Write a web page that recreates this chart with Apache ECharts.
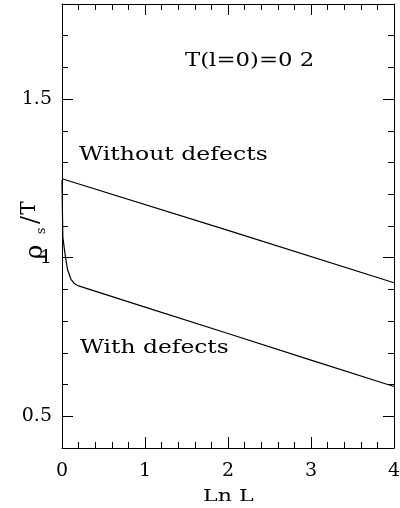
<!DOCTYPE html>
<html>
<head>
<meta charset="utf-8">
<script src="https://cdn.jsdelivr.net/npm/echarts@6/dist/echarts.min.js"></script>
<style>
  html, body { margin: 0; padding: 0; background: #ffffff; }
  #chart { width: 400px; height: 508px; }
</style>
</head>
<body>
<div id="chart"></div>
<script>
// Superfluid stiffness rho_s/T versus Ln L at T(l=0)=0.2
const withoutDefectsLnL = [0, 2, 4];
const withoutDefectsRho = [1.249, 1.086, 0.921];

const withDefectsLnL = [0, 0.005, 0.01, 0.03, 0.048, 0.068, 0.088, 0.108, 0.148, 0.2, 1, 2, 3, 4];
const withDefectsRho = [1.245, 1.15, 1.066, 1.024, 0.992, 0.961, 0.947, 0.932, 0.919, 0.911, 0.844, 0.761, 0.677, 0.594];

const xTickLabels = [0, 1, 2, 3, 4];
const yTickLabels = [0.5, 1, 1.5];

const FONT = 'DejaVu Serif';
const INK = '#000000';

const pairs = (xs, ys) => xs.map((x, i) => [x, ys[i]]);

const chart = echarts.init(document.getElementById('chart'), null, { renderer: 'canvas' });

const lineStyle = { color: INK, width: 1 };

function xAxisDef(position, showLabels) {
  return {
    type: 'value',
    position: position,
    min: xTickLabels[0],
    max: xTickLabels[xTickLabels.length - 1],
    interval: 1,
    axisLine: { show: true, onZero: false, lineStyle: lineStyle },
    axisTick: { show: true, inside: true, length: 11, lineStyle: lineStyle },
    minorTick: { show: true, splitNumber: 5, length: 6, lineStyle: lineStyle },
    splitLine: { show: false },
    minorSplitLine: { show: false },
    axisLabel: {
      show: showLabels, color: INK, fontFamily: FONT, fontSize: 19, margin: 14
    }
  };
}

function yMinorAxis(position, showLabels) {
  return {
    type: 'value',
    position: position,
    min: 0.4,
    max: 1.8,
    interval: 0.1,
    axisLine: { show: true, onZero: false, lineStyle: lineStyle },
    axisTick: { show: true, inside: true, length: 6, lineStyle: lineStyle },
    splitLine: { show: false },
    axisLabel: {
      show: showLabels,
      customValues: yTickLabels,
      color: INK, fontFamily: FONT, fontSize: 19, margin: 10,
      formatter: v => String(v)
    }
  };
}

function yMajorAxis(position) {
  return {
    type: 'value',
    position: position,
    min: 0.4,
    max: 1.8,
    interval: 0.1,
    axisLine: { show: false, onZero: false },
    axisTick: { show: true, inside: true, length: 11, customValues: yTickLabels, lineStyle: lineStyle },
    splitLine: { show: false },
    axisLabel: { show: false }
  };
}

function label(text, x, y, size, sx) {
  return {
    type: 'text', x: x, y: y, scaleX: sx || 1,
    style: {
      text: text, x: 0, y: 0, fill: INK,
      fontFamily: FONT, fontSize: size,
      align: 'left', verticalAlign: 'middle',
      textAlign: 'left', textVerticalAlign: 'middle'
    }
  };
}

function part(text, lx, ly, size) {
  return {
    type: 'text', x: lx, y: ly,
    style: {
      text: text, x: 0, y: 0, fill: INK,
      fontFamily: FONT, fontSize: size,
      align: 'center', verticalAlign: 'middle',
      textAlign: 'center', textVerticalAlign: 'middle'
    }
  };
}

const option = {
  backgroundColor: '#ffffff',
  animation: false,
  grid: { left: 62, right: 6, top: 4, bottom: 60, containLabel: false, outerBoundsMode: 'none' },
  xAxis: [xAxisDef('bottom', true), xAxisDef('top', false)],
  yAxis: [
    yMinorAxis('left', true),
    yMajorAxis('left'),
    yMinorAxis('right', false),
    yMajorAxis('right')
  ],
  series: [
    {
      name: 'Without defects',
      type: 'line',
      xAxisIndex: 0, yAxisIndex: 0,
      data: pairs(withoutDefectsLnL, withoutDefectsRho),
      showSymbol: false, smooth: false,
      lineStyle: { color: INK, width: 1.2 }
    },
    {
      name: 'With defects',
      type: 'line',
      xAxisIndex: 0, yAxisIndex: 0,
      data: pairs(withDefectsLnL, withDefectsRho),
      showSymbol: false, smooth: false,
      lineStyle: { color: INK, width: 1.2 }
    }
  ],
  graphic: [
    label('T(l=0)=0 2', 185, 61, 19, 1.2),
    label('Without defects', 79, 155, 19, 1.24),
    label('With defects', 80, 348, 19, 1.23),
    label('Ln L', 203, 497, 17, 1.3),
    {
      type: 'group',
      x: 35, y: 265,
      rotation: Math.PI / 2,
      children: [
        part('\u03C1', 13, 0, 25),
        part('s', 34, 7, 13),
        part('/', 45, -3, 24),
        part('T', 57, -5, 20)
      ]
    }
  ]
};

chart.setOption(option);
</script>
</body>
</html>
